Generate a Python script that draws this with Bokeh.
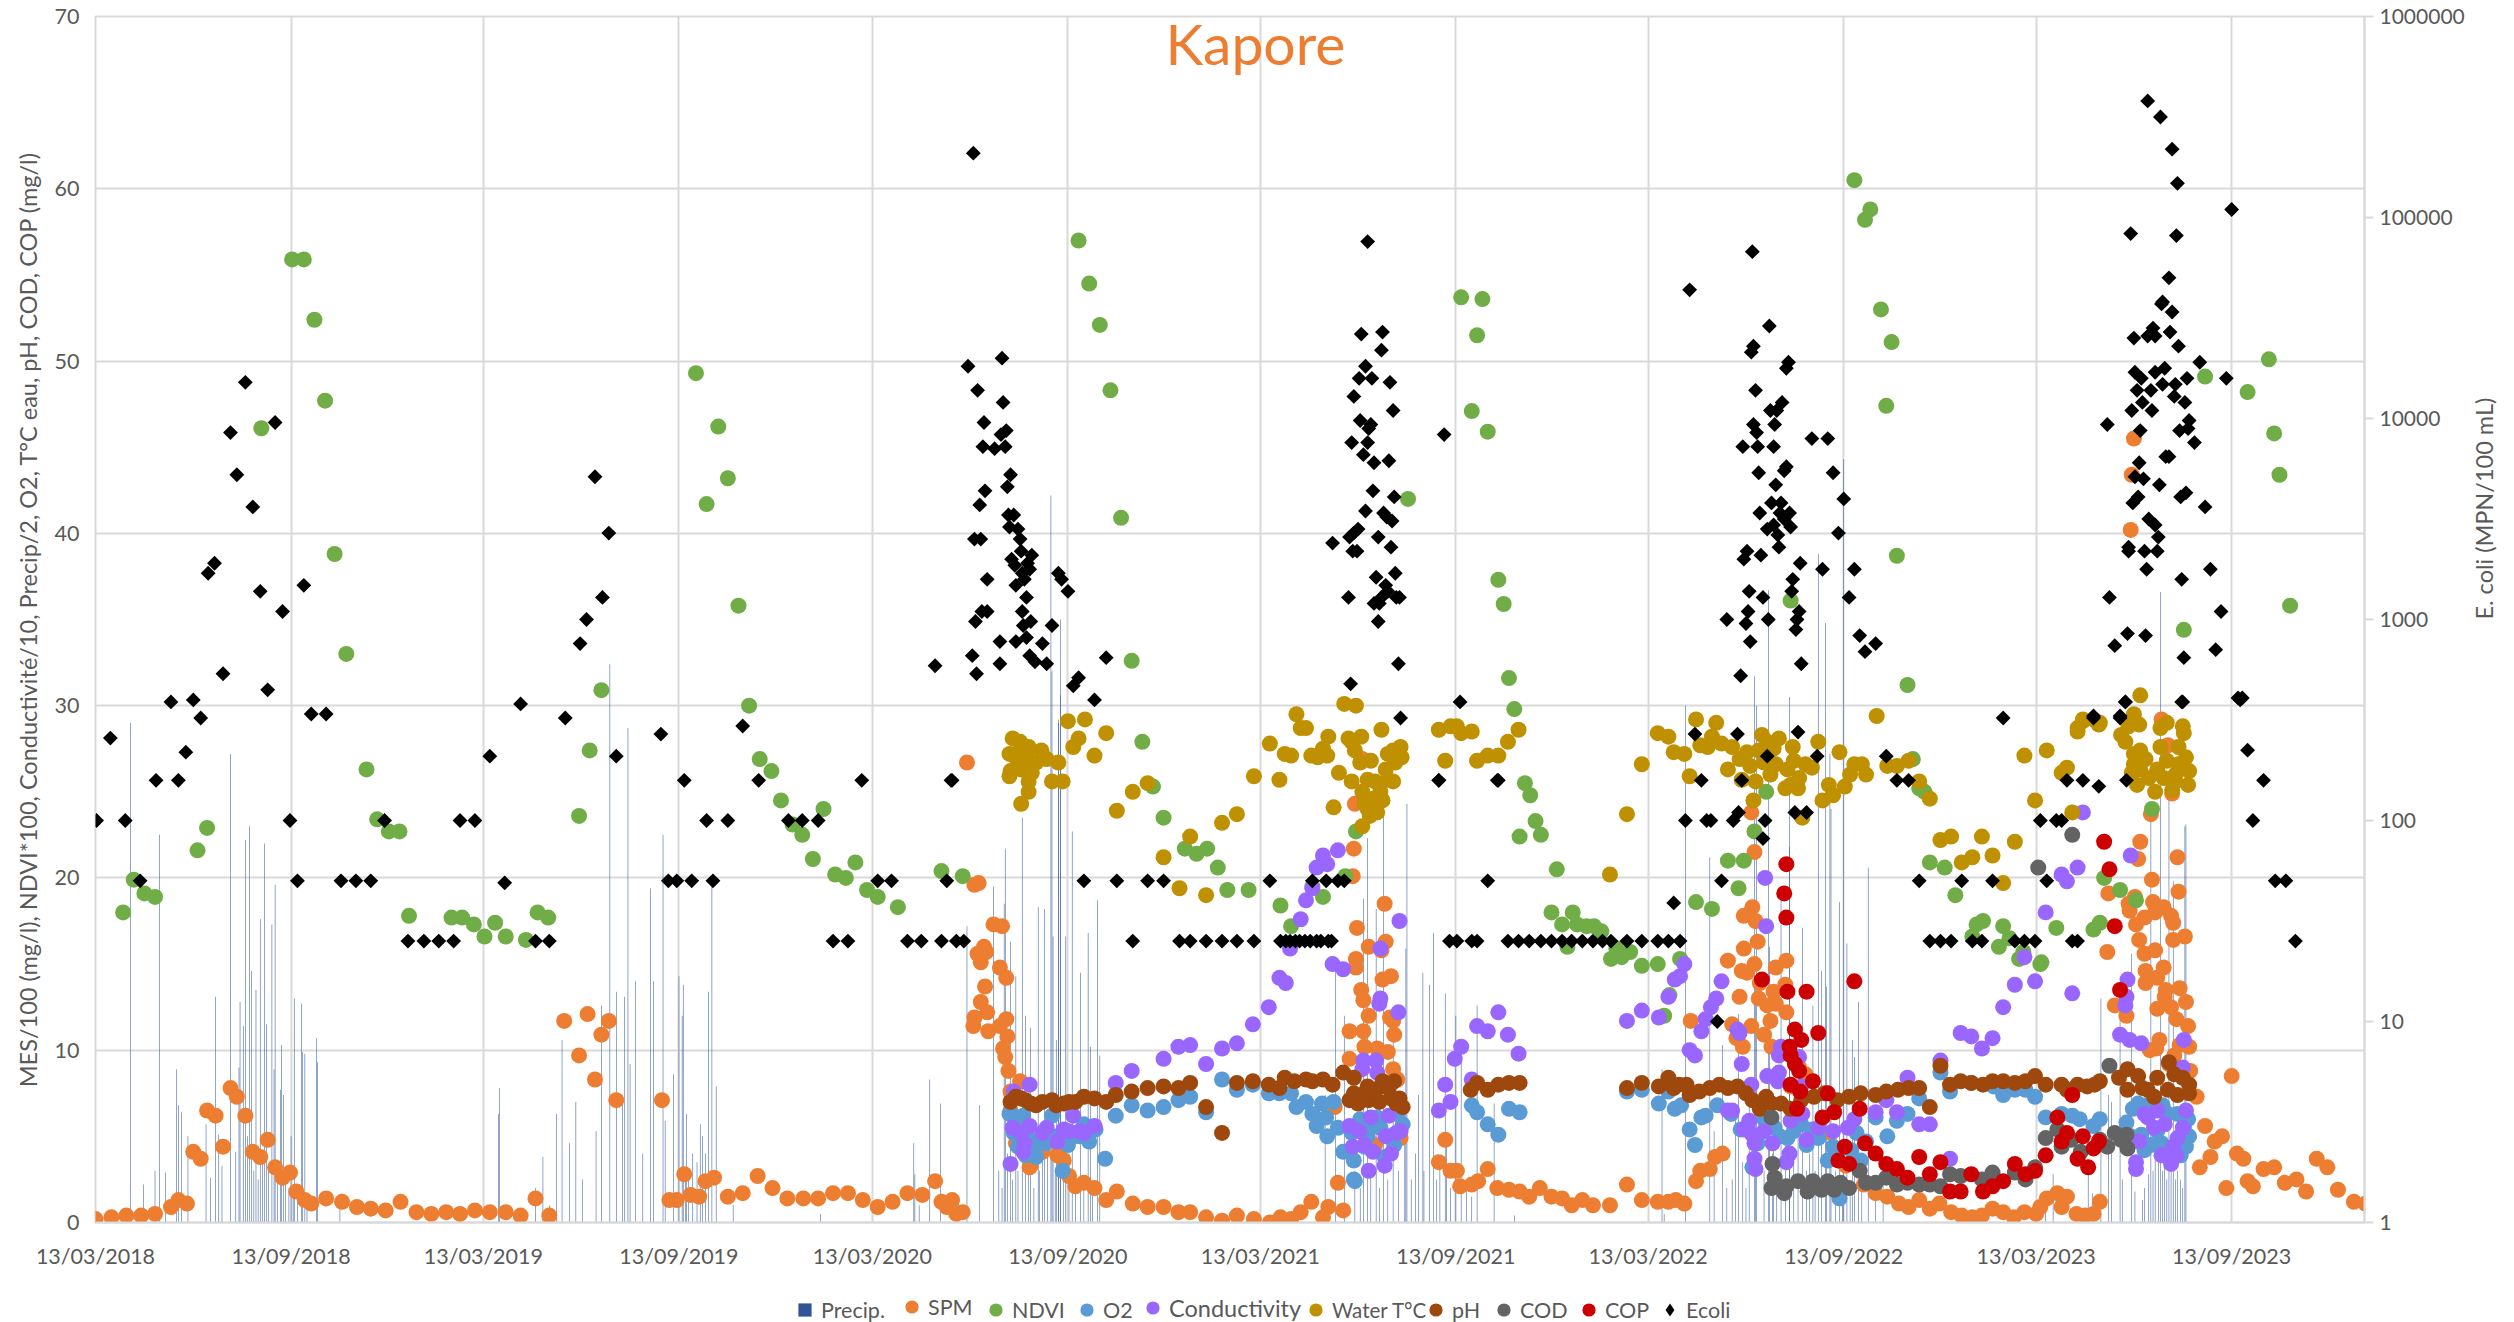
from bokeh.plotting import figure
from bokeh.layouts import column
from bokeh.models import Range1d, LogScale, LogAxis, FixedTicker, Legend, LegendItem, Label, CustomJSTickFormatter
from bokeh.embed import file_html
from bokeh.resources import INLINE
import math
import pandas as pd

tick_labels = ["13/03/2018","13/09/2018","13/03/2019","13/09/2019","13/03/2020","13/09/2020","13/03/2021","13/09/2021","13/03/2022","13/09/2022","13/03/2023","13/09/2023"]
start = pd.Timestamp(2018,3,13)
tick_days = [(pd.to_datetime(t, dayfirst=True)-start).days for t in tick_labels]

# (days since 13/03/2018, value on left axis)
spm = [(0,.2),(15,.3),(29,.4),(43,.4),(56,.5),(71,.9),(78,1.3),(86,1.1),(92,4.1),(99,3.7),(105,6.5),(113,6.2),(120,4.4),(127,7.8),(133,7.3),(141,6.2),(148,4.1),(155,3.8),(162,4.8),(169,3.2),(176,2.6),(183,2.9),(189,1.8),(197,1.3),(203,1.1),(217,1.4),(232,1.2),(246,.9),(259,.8),(273,.7),(287,1.2),(302,.6),(316,.5),(330,.6),(343,.5),(357,.7),(371,.6),(386,.6),(400,.4),(414,1.4),(427,.4),(441,11.7),(455,9.7),(463,12.1),(470,8.3),(476,10.9),(483,11.7),(490,7.1),(533,7.1),(540,1.3),(547,1.3),(554,2.8),(560,1.6),(568,1.5),(574,2.4),(582,2.6),(595,1.5),(609,1.7),(623,2.7),(637,2),(651,1.4),(666,1.4),(680,1.4),(694,1.7),(708,1.7),(722,1.3),(736,.9),(750,1.2),(764,1.7),(778,1.6),(790,2.4),(796,1.2),(806,1.3),(801,.9),(810,.5),(816,.6),(820,26.7),(827,19.6),(831,19.7),(845,17.3),(853,17.2),(836,16),(830,15.6),(838,15.7),(833,15.1),(851,14.8),(857,14.2),(837,13.7),(833,12.8),(839,12.2),(827,11.9),(826,11.4),(840,11.1),(851,11.4),(857,11.8),(858,10.8),(854,10.1),(856,9.6),(859,8.8),(870,8.2),(861,7.6),(861,6.5),(866,4.6),(880,3.3),(879,3.2),(891,4.1),(905,3.9),(911,3.6),(906,4),(916,2.7),(922,2.1),(930,2.3),(940,2),(951,1.3),(961,1.8),(976,1.1),(990,.9),(1005,.9),(1019,.6),(1030,.6),(1045,.3),(1060,.1),(1074,.4),(1090,.2),(1105,0),(1115,.3),(1125,.2),(1134,.6),(1144,1.2),(1155,.3),(1160,.9),(1174,.7),(1169,2.3),(1183,20.1),(1184,21.7),(1185,24.3),(1192,26.9),(1213,18.5),(1187,17.1),(1198,16),(1214,16.3),(1210,15.8),(1186,15.3),(1186,14.8),(1211,14.1),(1219,14.3),(1191,13.5),(1193,12.9),(1198,12),(1218,11.9),(1221,11.7),(1180,11.1),(1193,11.1),(1222,10.9),(1194,10.2),(1206,10.1),(1216,9.9),(1180,9.5),(1221,8.9),(1225,8.3),(1166,6.7),(1228,4.9),(1204,4.5),(1270,4.8),(1264,3.5),(1275,3),(1281,3),(1284,2.1),(1295,2.2),(1301,2.4),(1310,3.1),(1319,2),(1330,1.9),(1340,1.8),(1349,1.5),(1359,2),(1370,1.5),(1380,1.4),(1389,1),(1399,1.3),(1409,1),(1425,1),(1441,2.2),(1455,1.3),(1470,1.2),(1480,1.2),(1487,1.3),(1495,1.1),(1506,2.4),(1510,3),(1519,3.1),(1524,3.8),(1531,4),(1501,11.7),(1540,11.5),(1544,10.7),(1550,10.2),(1558,11.4),(1547,13.1),(1549,14.6),(1536,15.2),(1551,15.9),(1564,16.3),(1561,15),(1554,14.5),(1551,17.8),(1559,18.3),(1562,17.5),(1561,21.5),(1558,23.8),(1566,13.9),(1581,14.8),(1591,15.2),(1579,13.4),(1565,13),(1573,12.6),(1581,12.7),(1591,12.2),(1576,11.7),(1570,10.9),(1577,10.2),(1590,13.8),(1603,9),(1609,8.6),(1595,7.9),(1620,5.1),(1633,5.2),(1647,3.3),(1664,2.2),(1675,1.7),(1686,1.5),(1697,1.1),(1706,.9),(1716,1.3),(1726,.8),(1735,1.1),(1746,.6),(1756,.4),(1766,.3),(1775,.4),(1785,.8),(1795,.6),(1805,.3),(1815,.6),(1826,.5),(1830,.9),(1836,1.4),(1846,1.7),(1855,1.5),(1850,.9),(1864,.5),(1872,.4),(1880,.5),(1886,1.2),(1918,45.5),(1916,43.4),(1915,40.2),(1917,29.3),(1944,29.2),(1950,27.7),(1954,24.9),(1934,23.7),(1924,22.1),(1922,21.1),(1959,21.2),(1935,19.9),(1960,19.2),(1894,19.1),(1913,18.5),(1919,18.9),(1914,18.1),(1936,18.6),(1946,18.3),(1953,17.8),(1955,17.4),(1928,17.7),(1920,17.3),(1938,18),(1923,16.4),(1955,16.4),(1966,16.6),(1928,15.6),(1938,15.8),(1893,15.7),(1929,14.6),(1946,14.8),(1929,13.9),(1940,14.2),(1948,13.5),(1961,13.6),(1900,12.6),(1911,12),(1947,13.1),(1967,12.8),(1940,12.4),(1953,12.5),(1958,11.8),(1969,11.4),(1942,10.6),(1933,10),(1939,10.1),(1961,10.3),(1970,10.2),(1956,9.7),(1951,9.2),(1971,8.8),(1977,7.3),(1985,5.6),(2001,5),(1994,4.7),(1990,3.8),(1980,3.2),(2010,8.5),(2015,4),(2021,3.7),(2005,2),(2025,2.4),(2030,2.1),(2040,3.1),(2050,3.2),(2060,2.3),(2071,2.5),(2080,1.8),(2090,3.7),(2100,3.2),(2110,1.9),(2125,1.2),(2136,1.1)]

ndvi = [(26,18),(36,19.9),(46,19.1),(56,18.9),(96,21.6),(105,22.9),(156,46.1),(185,55.9),(196,55.9),(206,52.4),(216,47.7),(225,38.8),(236,33),(255,26.3),(265,23.4),(276,22.7),(286,22.7),(295,17.8),(335,17.7),(345,17.7),(356,17.3),(366,16.6),(376,17.4),(386,16.6),(405,16.4),(416,18),(426,17.7),(455,23.6),(465,27.4),(476,30.9),(565,49.3),(586,46.2),(595,43.2),(575,41.7),(605,35.8),(615,30),(625,26.9),(636,26.2),(645,24.5),(685,24),(656,23.1),(665,22.5),(675,21.1),(696,20.2),(706,20),(715,20.9),(726,19.3),(736,18.9),(755,18.3),(796,20.4),(816,20.1),(925,57),(935,54.5),(945,52.1),(955,48.3),(965,40.9),(975,32.6),(985,27.9),(995,25.3),(1005,23.5),(1025,21.7),(1036,21.4),(1046,21.7),(1056,20.6),(1065,19.3),(1085,19.3),(1115,18.4),(1125,17.2),(1145,19.5),(1155,18.9),(1176,20.1),(1186,22.7),(1235,42),(1285,53.7),(1305,53.6),(1300,51.5),(1295,47.1),(1310,45.9),(1320,37.3),(1325,35.9),(1330,31.6),(1335,29.8),(1345,25.5),(1350,24.8),(1355,23.3),(1340,22.4),(1360,22.5),(1375,20.5),(1370,18),(1390,18),(1380,17.3),(1394,17.3),(1403,17.2),(1410,17.2),(1385,16),(1426,15.3),(1436,15.4),(1444,15.7),(1417,16.9),(1431,15.9),(1455,14.9),(1470,15),(1491,15.3),(1481,13.2),(1476,12),(1506,18.6),(1521,18.2),(1546,19.4),(1536,21),(1551,21),(1561,22.7),(1572,25),(1595,36.1),(1655,60.5),(1670,58.8),(1665,58.2),(1680,53),(1690,51.1),(1685,47.4),(1695,38.7),(1705,31.2),(1710,26.9),(1716,25.2),(1721,25),(1726,20.9),(1740,20.6),(1750,19),(1770,17.3),(1776,17.5),(1795,17.2),(1766,16.6),(1801,16.5),(1791,16),(1810,15.3),(1831,15.1),(1814,15.7),(1890,20),(1905,19.3),(1920,18.7),(1935,24),(1886,17.4),(1880,17),(1845,17.1),(1830,15),(1985,49.1),(2045,50.1),(2025,48.2),(2050,45.8),(2055,43.4),(2065,35.8),(1965,34.4)]

o2 = [(860,6.3),(880,4.6),(900,6.2),(894,4.6),(930,5.7),(926,5),(941,5.4),(890,4.8),(877,5),(864,5.2),(861,6.3),(871,5.5),(883,4.2),(866,6),(873,6.2),(868,4.4),(875,3.9),(885,3.8),(905,5),(915,4.5),(920,5),(935,4.7),(910,3),(950,3.7),(960,6.2),(975,6.8),(990,6.5),(1005,6.7),(1019,7.1),(1030,7.3),(1045,6.4),(1060,8.3),(1074,7.7),(1089,8),(1104,7.5),(1114,7.5),(1125,7.5),(1130,6.7),(1139,7),(1145,6.3),(1154,6.9),(1165,7),(1158,6.1),(1149,5.6),(1159,5),(1169,5.5),(1174,4.1),(1184,3.6),(1184,2.5),(1185,2.4),(1194,4.4),(1200,5.5),(1213,3.8),(1206,6.1),(1225,6.3),(1230,5.7),(1209,5.5),(1190,6),(1182,5.2),(1197,5),(1217,5),(1222,4.5),(1295,6.8),(1300,6.4),(1310,5.7),(1320,5.1),(1330,6.6),(1340,6.4),(1441,7.6),(1455,7.7),(1471,6.9),(1480,7.6),(1486,6.6),(1492,6.8),(1500,5.4),(1505,4.5),(1511,6.1),(1526,6.8),(1515,6.2),(1539,6.3),(1548,5.4),(1559,3.2),(1564,4.6),(1570,6),(1580,5.5),(1585,5),(1592,4.9),(1598,5.3),(1605,5.7),(1610,4.5),(1615,5.4),(1621,4.9),(1635,4.4),(1630,3.6),(1652,4.2),(1661,3.6),(1666,4.7),(1641,1.4),(1657,5.2),(1675,6.1),(1686,5),(1695,5.9),(1705,6.3),(1716,7.2),(1736,8.7),(1745,7.6),(1765,8.1),(1786,7.9),(1795,7.4),(1806,7.7),(1816,7.7),(1825,7.3),(1835,6.1),(1850,6.3),(1860,6.2),(1867,6),(1886,6),(1880,5.6),(1917,6.6),(1911,5.8),(1925,5.1),(1934,4.5),(1944,4.6),(1969,6),(1970,5),(1967,4.4),(1962,3.9),(1959,6.3),(1922,6.9),(1950,6.3),(1940,5.3),(1959,4.7),(1915,5),(1928,4.2),(1950,4),(1965,5.5),(1930,6.8),(1945,6.8)]

conductivity = [(861,3.4),(879,8),(864,7.6),(920,6.2),(895,5.5),(891,5.2),(911,5.4),(926,5.3),(930,5.2),(940,5.6),(905,4.7),(863,5.5),(871,5.2),(879,5.6),(874,4.6),(873,4.1),(916,5.3),(960,8.1),(975,8.8),(1005,9.5),(1019,10.2),(1030,10.3),(1045,9.2),(1060,10.1),(1074,10.4),(1089,11.5),(1104,12.5),(1114,14.2),(1120,13.9),(1164,15),(1174,14.7),(1124,15.9),(1134,17.6),(1139,18.7),(1145,19.4),(1149,20.6),(1159,20.8),(1155,21.3),(1169,21.6),(1209,15.9),(1227,17.5),(1209,13),(1208,12.7),(1226,12.2),(1193,9.4),(1192,8.9),(1205,9.4),(1206,8.7),(1200,6.1),(1217,6.2),(1180,5.6),(1183,4.4),(1189,5.3),(1194,4.5),(1202,4.1),(1219,4),(1214,5),(1224,5.2),(1228,5.3),(1213,3.3),(1198,3),(1264,6.5),(1275,7),(1270,8),(1279,9.5),(1285,10.2),(1300,11.4),(1310,11.1),(1320,12.2),(1329,10.9),(1339,9.8),(1295,8.3),(1441,11.7),(1455,12.3),(1471,11.9),(1480,13.1),(1486,14.1),(1491,14.3),(1495,15),(1500,10),(1505,9.7),(1511,11.1),(1515,11.8),(1520,12.5),(1525,13),(1530,14),(1545,11.2),(1547,11),(1549,9.2),(1571,20),(1572,17.2),(1558,8),(1573,8.5),(1584,8.7),(1583,8.2),(1586,10.2),(1584,9.7),(1603,9.6),(1605,7.9),(1536,6.5),(1540,6.5),(1551,5.4),(1556,5.9),(1559,5.1),(1561,4.6),(1562,3.1),(1561,3.7),(1570,5.3),(1578,4.6),(1595,5.9),(1606,6.3),(1594,4),(1591,3.5),(1610,4.8),(1621,5.5),(1635,5.3),(1649,5.5),(1655,6),(1675,6.4),(1695,6.4),(1685,7.1),(1705,8.4),(1716,5.7),(1726,5.7),(1736,9.4),(1745,3.7),(1755,11),(1765,10.8),(1775,10.1),(1785,10.7),(1795,12.5),(1806,13.8),(1825,14),(1815,15.4),(1835,18),(1850,20.2),(1855,19.8),(1865,20.6),(1870,23.8),(1860,13.3),(1915,21.3),(1905,10.9),(1914,10.6),(1925,10.4),(1912,14.1),(1911,13.1),(1910,12.6),(1965,10.6),(1964,9),(1967,6.5),(1920,3.5),(1920,3.1),(1928,6.3),(1937,5.5),(1947,5.7),(1931,6.1),(1940,6.5),(1923,4.7),(1964,5.5),(1959,4.9),(1955,4.4),(1953,3.4),(1944,3.9),(1958,3.9)]

water_t = [(915,29.1),(931,29.2),(951,28.4),(925,28.1),(920,27.6),(940,27.1),(863,28.1),(870,27.9),(878,27.6),(890,27.4),(860,27.2),(866,27.2),(876,27.1),(867,26.9),(895,26.9),(906,26.7),(885,26.7),(873,26.7),(861,26.2),(860,25.9),(871,26.3),(881,26.1),(878,25.6),(900,25.6),(910,25.6),(878,25),(871,24.3),(990,25.5),(976,25),(961,23.9),(1030,22.4),(1060,23.2),(1074,23.7),(1005,21.2),(1020,19.4),(1045,19),(1090,25.9),(1105,27.8),(1114,25.7),(1119,27.2),(1125,27.1),(1130,29.5),(1134,28.7),(1139,28.7),(1144,27.1),(1150,27),(1155,27.5),(1159,27.1),(1160,28.2),(1175,30.1),(1186,30),(1179,28.1),(1191,28.2),(1182,27.9),(1185,27.4),(1210,28.6),(1200,26.8),(1190,26.7),(1170,26.1),(1182,25.6),(1165,24.1),(1228,27.6),(1221,27.4),(1216,27.2),(1229,27),(1223,26.7),(1214,26.3),(1221,25.6),(1216,25.7),(1197,25.7),(1204,25.6),(1209,25),(1192,25),(1202,24.6),(1211,24.5),(1194,24.3),(1206,23.8),(1199,23.6),(1192,23),(1197,24),(1264,28.6),(1275,28.8),(1281,28.8),(1285,28.4),(1295,28.5),(1270,26.8),(1300,26.8),(1310,27.1),(1320,27.1),(1329,27.9),(1339,28.6),(1425,20.2),(1441,23.7),(1455,26.6),(1470,28.4),(1480,28.2),(1485,27.3),(1495,27.2),(1500,25.9),(1506,29.2),(1521,28.2),(1525,29),(1510,27.7),(1517,27.6),(1530,27.8),(1536,26.3),(1540,27.6),(1547,26.9),(1549,25.7),(1554,27.3),(1557,26.5),(1560,24.5),(1562,25.6),(1568,28.3),(1565,27.4),(1573,27.9),(1570,26.7),(1576,26),(1581,26.6),(1584,28.1),(1579,27.5),(1590,25.2),(1592,26.3),(1597,27.6),(1598,26.8),(1595,25.4),(1603,25.8),(1609,26.6),(1606,23.5),(1615,26.4),(1621,27.9),(1602,25.2),(1631,25.4),(1625,24.5),(1635,24.8),(1641,27.3),(1646,25.3),(1651,26),(1655,26.6),(1662,26.6),(1666,26),(1676,29.4),(1686,26.5),(1695,26.5),(1706,26.8),(1716,25.6),(1726,24.6),(1736,22.2),(1746,22.4),(1756,20.9),(1766,21.2),(1775,22.4),(1785,21.3),(1795,19.7),(1806,22.1),(1815,27.1),(1825,24.5),(1836,27.4),(1850,26.1),(1855,26.4),(1860,23.8),(1865,28.7),(1870,29.2),(1880,29.2),(1886,29),(1918,29.5),(1906,28.3),(1913,28.8),(1923,28.9),(1910,27.9),(1943,28.7),(1949,29),(1964,28.8),(1965,28.4),(1960,27.6),(1943,27.6),(1924,27.4),(1918,27.2),(1929,26.9),(1949,26.8),(1967,27),(1960,26.6),(1918,26.6),(1924,26.3),(1916,26.1),(1940,26.3),(1957,26),(1970,26.2),(1932,25.8),(1946,25.8),(1921,25.4),(1957,25.6),(1969,25.4),(1938,25),(1954,25.1),(1924,30.6),(1870,29.1),(1885,28.9),(1865,28.5)]

ph = [(861,7),(866,7.3),(871,7.2),(875,7.1),(880,6.9),(885,6.8),(891,7),(900,7.1),(904,6.8),(911,6.9),(916,7),(922,7),(930,7.3),(940,7.2),(951,7),(960,7.4),(975,7.6),(990,7.8),(1005,7.9),(1019,7.8),(1030,8.1),(1045,6.7),(1060,5.2),(1074,8.1),(1089,8.2),(1104,8),(1114,7.8),(1119,8.4),(1128,8.2),(1139,8.3),(1145,8.2),(1155,8.3),(1164,8),(1174,8.7),(1184,8.4),(1180,7.1),(1188,6.9),(1197,7.9),(1198,7.1),(1208,7),(1211,8.2),(1222,8.2),(1219,7.2),(1227,7.2),(1230,6.7),(1205,7.7),(1184,7.5),(1194,7.5),(1217,7.8),(1224,6.9),(1294,7.7),(1300,8.1),(1310,7.7),(1320,8),(1330,8.1),(1340,8.1),(1441,7.8),(1455,8.1),(1471,7.9),(1480,8.4),(1485,7.8),(1490,8),(1497,8),(1500,7.4),(1509,7.6),(1519,7.8),(1528,8),(1536,7.8),(1545,7.9),(1553,7.5),(1559,7.1),(1566,6.6),(1572,7.3),(1577,6.9),(1586,6.9),(1595,6.6),(1605,7.1),(1617,7.3),(1627,7.5),(1639,7.1),(1650,7.3),(1661,7.5),(1675,7.4),(1685,7.6),(1696,7.7),(1706,7.8),(1716,7.8),(1726,6.7),(1736,9.1),(1745,8),(1755,8.2),(1765,8.1),(1776,8),(1785,8.2),(1795,8.2),(1806,8.1),(1816,8.2),(1825,8.5),(1835,8),(1850,8),(1855,7.7),(1865,8),(1874,7.9),(1881,8),(1886,8.2),(1904,8.4),(1912,8.9),(1922,8.5),(1912,7.7),(1926,7.8),(1931,7.7),(1937,7.3),(1940,8.4),(1950,7.7),(1951,9.3),(1956,8.6),(1959,7.4),(1964,8.4),(1970,8),(1970,7.5)]

cod = [(1577,6.1),(1578,3.4),(1580,2.6),(1577,2),(1581,2.1),(1589,1.7),(1591,2.1),(1602,2.4),(1611,1.8),(1616,2.4),(1624,1.9),(1630,2.4),(1636,1.9),(1642,2.3),(1650,2),(1660,3),(1666,2.3),(1675,2.3),(1685,2.6),(1695,2.2),(1705,2.3),(1716,2.2),(1726,2.2),(1736,2.1),(1745,2.8),(1755,2.7),(1775,2.5),(1785,2.9),(1806,2.9),(1816,2.5),(1825,3.2),(1828,20.6),(1860,22.5),(1835,4.9),(1846,5.4),(1850,4.4),(1859,4.8),(1868,4.1),(1886,4.8),(1893,4.4),(1895,9.1),(1900,5.2),(1911,5.1),(1912,4.3),(1906,4.8)]

cop = [(1591,20.8),(1589,19.1),(1591,17.7),(1568,14.1),(1592,13.4),(1610,13.4),(1655,14),(1599,11.2),(1621,11),(1605,10.6),(1594,10.2),(1595,9.7),(1599,9.2),(1603,8.8),(1616,8.2),(1595,8),(1604,7.6),(1630,7.5),(1601,6.6),(1660,6.6),(1625,6.1),(1636,6.4),(1665,4.6),(1646,4.4),(1675,4),(1640,3.6),(1650,3.4),(1685,3.4),(1695,3.1),(1705,2.6),(1716,3.8),(1726,2.8),(1736,3.5),(1745,1.8),(1755,1.8),(1765,2.8),(1776,1.8),(1785,2.1),(1795,2.4),(1806,3.4),(1816,2.8),(1825,3),(1835,3.9),(1846,6.1),(1855,5.2),(1850,4.7),(1865,3.7),(1870,5),(1875,3.2),(1880,4.3),(1885,4.7),(1860,7.4),(1890,22.1),(1895,20.5),(1900,17.2),(1905,13.5)]

# (days since 13/03/2018, log10 of E. coli read on the right axis)
ecoli_log = [(1,2),(14,2.41),(28,2),(42,1.7),(57,2.2),(71,2.59),(78,2.2),(85,2.34),(92,2.6),(99,2.51),(106,3.23),(112,3.28),(120,2.73),(127,3.93),(133,3.72),(141,4.18),(148,3.56),(155,3.14),(162,2.65),(169,3.98),(176,3.04),(183,2),(190,1.7),(196,3.17),(203,2.53),(217,2.53),(231,1.7),(245,1.7),(259,1.7),(272,2),(294,1.4),(309,1.4),(323,1.4),(337,1.4),(343,2),(357,2),(371,2.32),(385,1.69),(400,2.58),(414,1.4),(427,1.4),(442,2.51),(456,2.88),(462,3),(470,3.71),(477,3.11),(483,3.43),(490,2.32),(532,2.43),(539,1.7),(547,1.7),(554,2.2),(561,1.7),(575,2),(581,1.7),(595,2),(609,2.47),(624,2.2),(652,2),(665,2),(680,2),(721,2.2),(736,1.7),(749,1.7),(694,1.4),(708,1.4),(764,1.4),(777,1.4),(796,1.4),(810,1.4),(817,1.4),(801,1.7),(806,2.2),(930,1.7),(961,1.7),(990,1.7),(1005,1.7),(976,1.4),(1020,1.4),(1030,1.4),(1045,1.4),(1060,1.4),(1074,1.4),(1090,1.4),(1105,1.7),(1115,1.4),(1120,1.4),(1124,1.4),(1129,1.4),(1133,1.4),(1138,1.4),(1143,1.4),(1149,1.4),(1153,1.4),(1160,1.4),(1163,1.4),(1145,1.7),(1158,1.7),(1169,1.7),(1175,1.7),(1264,2.2),(1310,1.7),(1320,2.2),(1274,1.4),(1281,1.4),(1295,1.4),(1300,1.4),(1329,1.4),(1339,1.4),(1349,1.4),(1360,1.4),(1370,1.4),(1380,1.4),(1389,1.4),(1399,1.4),(1409,1.4),(1418,1.4),(1426,1.4),(1441,1.4),(1455,1.4),(1470,1.4),(1480,1.4),(1491,1.4),
(826,5.32),(821,4.26),(853,4.3),(830,4.14),(854,4.08),(836,3.98),(857,3.94),(852,3.92),(835,3.86),(846,3.85),(856,3.86),(861,3.72),(837,3.64),(858,3.66),(832,3.57),(859,3.52),(864,3.52),(860,3.46),(868,3.45),(870,3.4),(827,3.4),(833,3.4),(871,3.34),(881,3.32),(862,3.3),(865,3.27),(877,3.28),(879,3.25),(872,3.23),(906,3.23),(909,3.2),(874,3.2),(839,3.2),(866,3.17),(915,3.14),(876,3.11),(834,3.04),(839,3.04),(872,3.04),(880,2.99),(828,2.99),(873,2.97),(900,2.97),(876,2.91),(851,2.89),(866,2.89),(891,2.88),(825,2.82),(879,2.82),(951,2.81),(884,2.79),(851,2.78),(895,2.78),(790,2.77),(829,2.73),(925,2.71),(920,2.67),(940,2.6),(805,2.2),
(1197,4.88),(1191,4.42),(1211,4.43),(1210,4.34),(1195,4.26),(1189,4.2),(1201,4.2),(1218,4.18),(1184,4.11),(1221,4.04),(1190,3.99),(1200,3.97),(1198,3.95),(1182,3.88),(1197,3.88),(1193,3.82),(1203,3.78),(1217,3.79),(1202,3.64),(1222,3.61),(1195,3.54),(1212,3.53),(1215,3.51),(1220,3.49),(1188,3.45),(1184,3.43),(1180,3.41),(1207,3.41),(1164,3.38),(1219,3.36),(1183,3.34),(1187,3.34),(1223,3.23),(1205,3.21),(1214,3.17),(1216,3.14),(1179,3.11),(1224,3.11),(1227,3.11),(1210,3.11),(1203,3.08),(1208,3.08),(1207,2.99),(1226,2.78),(1181,2.68),(1284,2.59),(1228,2.51),(1269,3.92),(1264,2.2),(1319,2.2),
(1500,4.64),(1559,4.83),(1575,4.46),(1560,4.36),(1558,4.33),(1593,4.28),(1591,4.25),(1562,4.14),(1587,4.08),(1576,4.04),(1582,4.04),(1560,3.97),(1580,3.97),(1563,3.93),(1615,3.9),(1630,3.9),(1550,3.86),(1564,3.86),(1579,3.86),(1591,3.76),(1589,3.74),(1565,3.73),(1635,3.73),(1581,3.67),(1645,3.6),(1577,3.58),(1586,3.58),(1566,3.53),(1594,3.53),(1585,3.53),(1589,3.5),(1579,3.47),(1595,3.46),(1573,3.45),(1640,3.43),(1583,3.42),(1584,3.36),(1554,3.34),(1567,3.32),(1551,3.3),(1604,3.28),(1625,3.25),(1655,3.25),(1597,3.2),(1596,3.14),(1556,3.14),(1569,3.11),(1650,3.11),(1603,3.04),(1555,3.04),(1535,3),(1553,2.98),(1574,3),(1601,3),(1600,2.95),(1660,2.92),(1557,2.89),(1675,2.88),(1665,2.84),(1605,2.78),(1548,2.72),(1505,2.43),(1545,2.43),(1602,2.44),(1573,2.32),(1620,2.32),(1685,2.32),(1795,2.51),(1511,2.2),(1549,2.2),(1695,2.2),(1706,2.2),(1496,2),(1516,2),(1520,2),(1541,2),(1546,2.04),(1571,2),(1599,2.04),(1610,2.04),(1569,1.91),(1530,1.7),(1485,1.59),(1526,1),(1716,1.7),(1756,1.7),(1785,1.7),(1726,1.4),(1736,1.4),(1746,1.4),(1766,1.4),(1775,1.4),(1806,1.4),(1815,1.4),(1825,1.4),(1836,1.7),(1830,2),(1845,2),(1850,2),(1855,2.2),(1870,2.2),(1885,2.17),(1911,2.2),(1860,1.4),(1865,1.4),(1880,2.52),(1905,2.52),(1910,2.59),(1964,2.59),(2018,2.6),(2025,2.35),(2040,2.2),(2030,2),(2051,1.7),(2061,1.7),(2070,1.4),
(1931,5.58),(1943,5.5),(1954,5.34),(1959,5.17),(2010,5.04),(1915,4.92),(1958,4.91),(1951,4.7),(1945,4.58),(1944,4.57),(1954,4.53),(1936,4.45),(1918,4.4),(1931,4.41),(1938,4.41),(1952,4.43),(1960,4.36),(1980,4.28),(1947,4.25),(1919,4.23),(1938,4.23),(1925,4.2),(1968,4.2),(2005,4.2),(1945,4.17),(1957,4.17),(1921,4.14),(1934,4.14),(1956,4.11),(1926,4.08),(1966,4.08),(1916,4.04),(1935,4.04),(1970,3.99),(1893,3.97),(1924,3.94),(1961,3.94),(1969,3.95),(1975,3.88),(1948,3.81),(1951,3.81),(1923,3.78),(1919,3.71),(1927,3.7),(1942,3.67),(1967,3.63),(1962,3.61),(1922,3.61),(1917,3.58),(1985,3.56),(1932,3.5),(1938,3.47),(1941,3.41),(1913,3.36),(1913,3.34),(1928,3.34),(1940,3.34),(1930,3.25),(1990,3.25),(1963,3.2),(1895,3.11),(2000,3.04),(1912,2.93),(1929,2.92),(1900,2.87),(1995,2.85),(1965,2.81),(1910,2.59),(1963,2.59),(2016,2.61),(2020,2.61),(1880,2.51),(1905,2.51)]

# daily precipitation / 2
precip = [(33,29),(127,27.2),(159,22),(161,11.5),(60,22.5),(145,23),(141,22.2),(169,19.6),(155,17.6),(166,17.3),(147,14.6),(151,13.5),(136,12.8),(113,13.1),(76,8.9),(78,6.8),(81,6.4),(56,3),(45,2.2),(66,2.9),(87,5),(104,5.7),(108,2.6),(116,5.1),(119,3.3),(175,10.3),(187,13),(194,12.7),(195,9.9),(197,9.8),(208,10.7),(209,9.3),(174,7.7),(168,8.9),(184,5),(177,7.4),(132,4.1),(139,11.4),(135,9),(143,5),(149,3),(153,2.5),(157,4),(163,3),(171,3.5),(179,2.5),(182,2),(186,2),(190,1.5),(199,1),(230,.8),
(380,7.8),(379,6.3),(484,32.4),(501,28.7),(476,12.6),(490,13.4),(498,13.1),(508,14),(452,7),(439,10.6),(434,6.3),(446,4.6),(421,3.8),(471,5.3),(458,2.5),(503,9.2),(496,7.4),(414,2),(427,1),(522,19.4),(534,22.5),(544,8.6),(549,14.3),(552,12),(553,13.8),(580,19.5),(577,13.4),(584,7.9),(536,5.9),(556,6.3),(569,5.7),(525,14),(515,4),(600,1),(555,3),(558,2.5),(562,4),(566,3.5),(571,5),(574,4),
(682,.5),(770,4.6),(771,2.8),(785,8.3),(795,6.9),(820,17.2),(832,6.8),(845,19.5),(856,21.7),(855,18.5),(861,16.3),(872,23.5),(887,18.3),(893,18.2),(900,32),(908,35),(901,16.6),(906,29),(913,16.6),(919,22.7),(927,14.5),(934,16.8),(936,10.2),(943,18.7),(945,9.7),(866,14.3),(875,12),(880,11.3),(904,10.6),(899,42.2),(908,30.6),(906,29.2),(850,3),(853,2),(858,4),(863,2.5),(868,3),(878,3.5),(883,2),(888,3),(891,4),(896,5),(903,3),(911,3),(916,4),(922,2),(930,2.5),(938,2),(775,1),(812,1.5),
(1157,7.4),(1167,15.2),(1175,12),(1193,18.8),(1197,22.3),(1205,18.2),(1212,24),(1221,12),(1234,24.3),(1233,15.9),(1249,14.5),(1259,16.8),(1270,13.3),(1245,7.4),(1255,13.8),(1280,12),(1300,12.6),(1316,6.9),(1285,10.2),(1271,5.1),(1335,.4),(1232,6.3),(1185,3),(1190,2),(1200,3),(1208,2),(1216,2.5),(1226,3),(1238,2.5),(1242,4),(1250,3),(1262,2.5),(1265,3.5),(1275,2),(1290,2),(1295,1.5),
(1476,.5),(1496,30),(1561,31.7),(1563,30),(1574,36.7),(1594,30.5),(1621,38.8),(1628,34.8),(1645,44.3),(1632,27.2),(1519,21.2),(1474,8.9),(1531,10.3),(1543,6.3),(1546,12.1),(1523,5.3),(1606,17.1),(1616,12.6),(1624,14.6),(1629,13.7),(1633,24),(1641,18.6),(1648,16.2),(1653,10.6),(1655,9.6),(1659,12.8),(1668,20.6),(1682,2.4),(1562,14),(1556,7.6),(1575,16),(1586,18.9),(1594,21.8),(1579,6.3),(1570,3),(1578,4),(1582,3),(1590,5),(1598,4),(1602,5),(1610,3),(1613,4),(1618,3),(1637,3),(1644,2.5),(1651,2),(1662,2),(1675,1.5),(1535,2),(1540,2.5),(1550,3.5),(1553,2),
(1842,2.8),(1835,.9),(1875,3),(1879,1.7),(1887,13),(1894,7.4),(1897,7),(1907,2.5),(1916,15.6),(1919,1.8),(1926,1.3),(1943,36.6),(1934,23.5),(1951,24.9),(1966,23),(1932,2.8),(1947,4.4),(1959,3),(1955,19.8),(1967,23.1),(1905,13.1),(1928,2),(1936,3),(1938,4),(1941,3.5),(1945,3),(1949,2.5),(1953,3),(1957,2.5),(1962,2.5),(1964,2)]

def col(pairs, i):
    return [p[i] for p in pairs]

FONT = "Lato"
GRID = "#D9D9D9"
TXT = "#595959"

p = figure(width=2514, height=1272, output_backend="svg", toolbar_location=None,
           x_range=Range1d(0, 2135), y_range=Range1d(0, 70),
           min_border_left=95, min_border_right=150, min_border_top=16, min_border_bottom=50,
           background_fill_color="white", border_fill_color="white")
p.extra_y_ranges = {"ecoli": Range1d(1, 1000000)}
p.extra_y_scales = {"ecoli": LogScale()}

p.xaxis.ticker = FixedTicker(ticks=tick_days)
p.xaxis.major_label_overrides = dict(zip(tick_days, tick_labels))
p.yaxis.ticker = FixedTicker(ticks=list(range(0, 80, 10)))
p.yaxis.axis_label = "MES/100 (mg/l), NDVI*100, Conductivité/10, Precip/2, O2, T°C eau, pH, COD, COP (mg/l)"
for ax in (p.xaxis[0], p.yaxis[0]):
    ax.major_tick_line_color = None
    ax.minor_tick_line_color = None
    ax.major_label_text_font = FONT
    ax.major_label_text_color = TXT
    ax.major_label_text_font_size = "21.5px"
    ax.axis_line_color = GRID
    ax.axis_line_width = 2
p.yaxis[0].axis_line_color = None
p.xaxis[0].major_label_standoff = 14
p.yaxis[0].major_label_standoff = 10
p.yaxis[0].axis_label_text_font = FONT
p.yaxis[0].axis_label_text_font_style = "normal"
p.yaxis[0].axis_label_text_color = TXT
p.yaxis[0].axis_label_text_font_size = "23.5px"
p.yaxis[0].axis_label_standoff = 10

right = LogAxis(y_range_name="ecoli", ticker=FixedTicker(ticks=[1,10,100,1000,10000,100000,1000000]),
                axis_label="E. coli (MPN/100 mL)",
                formatter=CustomJSTickFormatter(code="return String(Math.round(tick));"))
if "axis_label_orientation" in right.properties():
    right.axis_label_orientation = math.pi/2
right.major_tick_line_color = GRID
right.major_tick_line_width = 2
right.major_tick_out = 9
right.major_tick_in = 0
right.major_label_standoff = 6
right.minor_tick_line_color = None
right.axis_line_color = GRID
right.axis_line_width = 2
right.major_label_text_font = FONT
right.major_label_text_color = TXT
right.major_label_text_font_size = "21px"
right.axis_label_text_font = FONT
right.axis_label_text_font_style = "normal"
right.axis_label_text_color = TXT
right.axis_label_text_font_size = "23.5px"
right.axis_label_text_align = "center"
right.axis_label_text_baseline = "middle"
right.axis_label_standoff = 16
p.add_layout(right, "right")

p.xgrid.ticker = FixedTicker(ticks=tick_days)
p.xgrid.grid_line_color = GRID
p.xgrid.grid_line_width = 2
p.ygrid.grid_line_color = GRID
p.ygrid.grid_line_width = 2
p.outline_line_color = GRID
p.outline_line_width = 2

PRECIP_C, SPM_C, NDVI_C, O2_C, CON_C, WATER_C, PH_C, COD_C, COP_C = (
    "#2F5597", "#ED7D31", "#70AD47", "#5B9BD5", "#9966FF", "#BF9000", "#9E480E", "#636363", "#CC0000")

p.vbar(x=col(precip,0), top=col(precip,1), bottom=0, width=0.5, fill_color=PRECIP_C, line_color=None)

def dots(pairs, color):
    return p.scatter(col(pairs,0), col(pairs,1), marker="circle", size=16, fill_color=color, line_color=None)

dots(spm, SPM_C)
dots(ndvi, NDVI_C)
dots(o2, O2_C)
dots(conductivity, CON_C)
dots(water_t, WATER_C)
dots(ph, PH_C)
dots(cod, COD_C)
dots(cop, COP_C)
p.scatter(col(ecoli_log,0), [10**v for v in col(ecoli_log,1)], y_range_name="ecoli",
          marker="square", angle=math.pi/4, size=10.5, fill_color="black", line_color=None)

p.add_layout(Label(x=1070, y=1180, x_units="screen", y_units="screen", text="Kapore",
                   text_color=SPM_C, text_font=FONT, text_font_size="57px", text_baseline="middle"))

# Legend strip under the chart
strip = figure(width=2514, height=50, output_backend="svg", toolbar_location=None,
               x_axis_type=None, y_axis_type=None, x_range=Range1d(0, 1), y_range=Range1d(0, 1),
               min_border=0, outline_line_color=None, border_fill_color="white")
strip.xgrid.visible = False
strip.ygrid.visible = False

# name, colour, marker, left px, bottom px, font size
legend_rows = [
    ("Precip.", PRECIP_C, "square", 693, -4, "21.5px"),
    ("SPM", SPM_C, "circle", 800, -1, "21.5px"),
    ("NDVI", NDVI_C, "circle", 884, -4, "21.5px"),
    ("O2", O2_C, "circle", 975, -4, "21.5px"),
    ("Conductivity", CON_C, "circle", 1041, -2, "23.5px"),
    ("Water T°C", WATER_C, "circle", 1204, -4, "20.5px"),
    ("pH", PH_C, "circle", 1324, -4, "21.5px"),
    ("COD", COD_C, "circle", 1392, -4, "21.5px"),
    ("COP", COP_C, "circle", 1477, -4, "21.5px"),
    ("Ecoli", "#000000", "diamond", 1558, -4, "21.5px"),
]
for name, color, marker, left, bottom, fs in legend_rows:
    r = strip.scatter([-1], [-1], marker=marker, size=13, fill_color=color, line_color=None)
    strip.add_layout(Legend(items=[LegendItem(label=name, renderers=[r])], location=(left, bottom),
                            border_line_color=None, background_fill_alpha=0,
                            label_text_font=FONT, label_text_color=TXT, label_text_font_size=fs,
                            glyph_width=33, glyph_height=33, label_standoff=0, padding=0, margin=0),
                     "center")

open("out.html", "w").write(file_html(column(p, strip, spacing=0), INLINE))
